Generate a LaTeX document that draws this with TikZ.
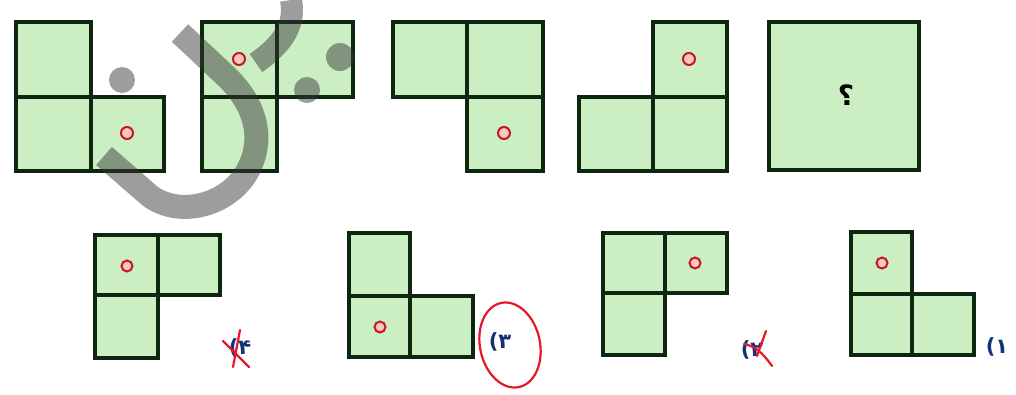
\documentclass[tikz,border=0pt]{standalone}
\usepackage{fontspec}
\newfontfamily\digfont{DejaVu Sans}
\definecolor{cellgreen}{RGB}{203,238,195}
\definecolor{celledge}{RGB}{14,38,16}
\definecolor{dotred}{RGB}{195,25,35}
\definecolor{dotfill}{RGB}{252,200,190}
\definecolor{inkblue}{RGB}{20,50,120}
\definecolor{inkred}{RGB}{225,25,40}
\begin{document}
\begin{tikzpicture}[x=1pt,y=-1pt,
  cell/.style={fill=cellgreen,draw=celledge,line width=3.2pt},
  dotmark/.style={fill=dotfill,draw=dotred,line width=2pt},
  wmstroke/.style={draw=black!80,line width=24pt,line cap=butt},
  wmdot/.style={fill=black!80},
  lab/.style={text=inkblue,font=\digfont\fontsize{21}{21}\selectfont\bfseries,inner sep=0pt},
  redink/.style={draw=inkred,line width=2.2pt,line cap=round}]
\useasboundingbox (0,0) rectangle (1016,394);
% ---- top row ----
% figure 1
\draw[cell] (16,22) rectangle (91,97);
\draw[cell] (16,97) rectangle (91,171);
\draw[cell] (91,97) rectangle (164,171);
\draw[dotmark] (127,133) circle (6);
% figure 2
\draw[cell] (202,22) rectangle (277,97);
\draw[cell] (277,22) rectangle (353,97);
\draw[cell] (202,97) rectangle (277,171);
\draw[dotmark] (239,59) circle (6);
% figure 3
\draw[cell] (393,22) rectangle (467,97);
\draw[cell] (467,22) rectangle (543,97);
\draw[cell] (467,97) rectangle (543,171);
\draw[dotmark] (504,133) circle (6);
% figure 4
\draw[cell] (653,22) rectangle (727,97);
\draw[cell] (579,97) rectangle (653,171);
\draw[cell] (653,97) rectangle (727,171);
\draw[dotmark] (689,59) circle (6);
% figure 5
\draw[cell] (769,22) rectangle (919,170);
\node[font=\digfont\fontsize{28}{28}\selectfont\bfseries,text=black] (q) at (846,95) {؟};
% ---- bottom row ----
% option 4
\draw[cell] (95,235) rectangle (158,295);
\draw[cell] (158,235) rectangle (220,295);
\draw[cell] (95,295) rectangle (158,358);
\draw[dotmark] (127,266) circle (5.5);
\node[lab] (l4) at (240,348) {(۴};
\draw[redink] (240,330) -- (233,367);
\draw[redink] (223,341) -- (249,367);
% option 3
\draw[cell] (349,233) rectangle (410,296);
\draw[cell] (349,296) rectangle (410,357);
\draw[cell] (410,296) rectangle (473,357);
\draw[dotmark] (380,327) circle (5.5);
\node[lab] (l3) at (500,342) {(۳};
\draw[draw=inkred,line width=2.2pt,rotate around={12:(510,345)}] (510,345) ellipse (30 and 43);
% option 2
\draw[cell] (603,233) rectangle (665,293);
\draw[cell] (665,233) rectangle (727,293);
\draw[cell] (603,293) rectangle (665,355);
\draw[dotmark] (695,263) circle (5.5);
\node[lab] (l2) at (752,350) {(۲};
\draw[redink] (766,331) -- (757,356);
\draw[redink] (744,344) .. controls (755,346) and (762,352) .. (772,366);
% option 1
\draw[cell] (851,232) rectangle (912,294);
\draw[cell] (851,294) rectangle (912,355);
\draw[cell] (912,294) rectangle (974,355);
\draw[dotmark] (882,263) circle (5.5);
\node[lab] (l1) at (997,347) {(۱};
% ---- watermark ----
\begin{scope}[transparency group,opacity=0.48]
\draw[wmstroke] (180,33) -- (228,78) .. controls (258,108) and (264,142) .. (247,172)
  .. controls (228,205) and (180,218) .. (150,196) -- (104,156);
\draw[wmstroke,line width=22pt] (291,0) .. controls (296,25) and (282,45) .. (256,63);
\fill[wmdot] (122,80) circle (13);
\fill[wmdot] (340,57) circle (14);
\fill[wmdot] (307,90) circle (13);
\end{scope}
\end{tikzpicture}
\end{document}
